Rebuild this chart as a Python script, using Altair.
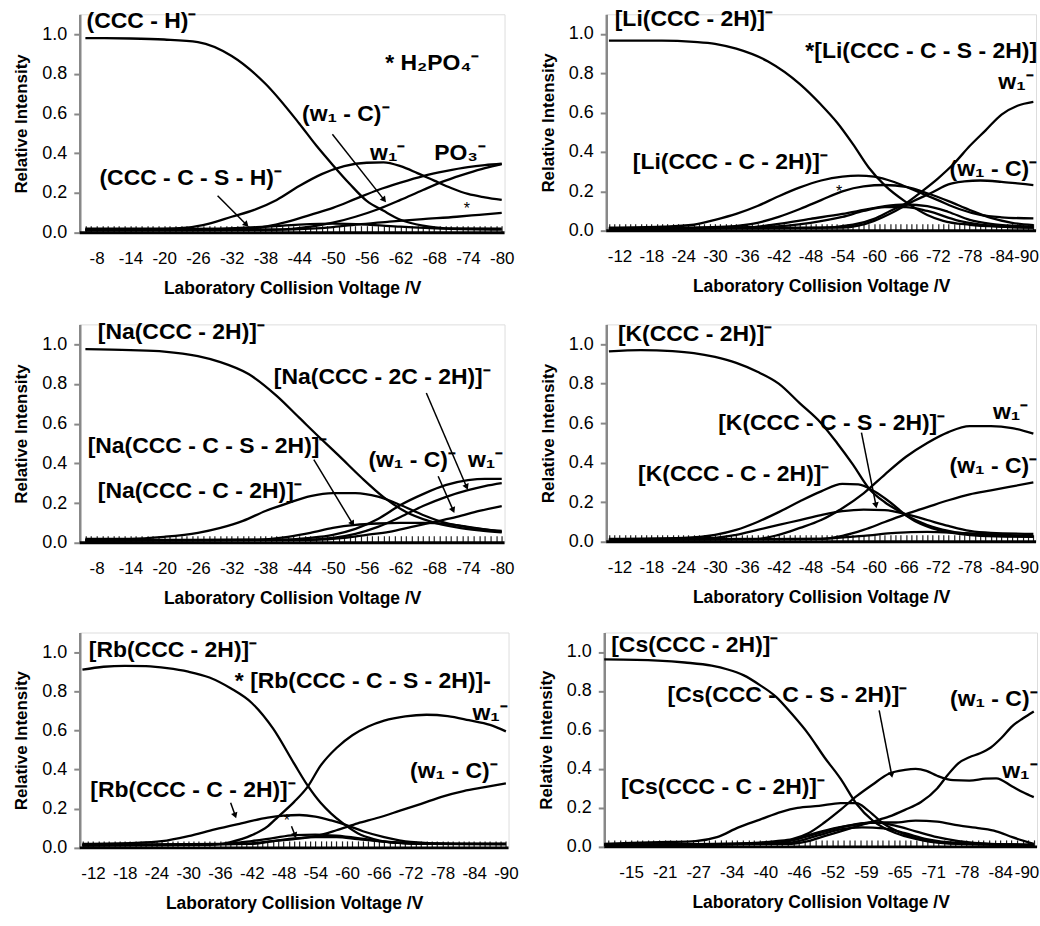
import json
import math
import altair as alt
import pandas as pd

FONT = "Liberation Sans"
X_TITLE = "Laboratory Collision Voltage /V"
Y_TITLE = "Relative Intensity"
Y_TICKS = [0.0, 0.2, 0.4, 0.6, 0.8, 1.0]

# ---------------- category tick positions and tick labels ----------------
ticks_6_80 = list(range(-6, -81, -1))
ticks_10_90 = list(range(-10, -91, -1))
cs_label_pos = [-15, -21.25, -27.5, -33.75, -40, -46.25, -52.5, -58.75, -65, -71.25, -77.5, -83.75, -90]
cs_labels = ["-15", "-21", "-27", "-34", "-40", "-46", "-52", "-59", "-65", "-71", "-78", "-84", "-90"]
cs_ticks = [-15 - (k * 75) / 72 for k in range(-4, 73)]

# ---------------- panel 1: (CCC - H)- ----------------
p1_ccc_h = [(-6, 0.98), (-14, 0.978), (-20, 0.973), (-26, 0.96), (-32, 0.89), (-38, 0.75), (-44, 0.55), (-47, 0.44),
            (-50, 0.34), (-53, 0.245), (-56, 0.16), (-59, 0.11), (-62, 0.065), (-66, 0.035), (-70, 0.022), (-80, 0.02)]
p1_w1 = [(-6, 0.02), (-20, 0.02), (-24, 0.025), (-28, 0.045), (-32, 0.08), (-36, 0.115), (-40, 0.165), (-44, 0.235),
         (-48, 0.295), (-52, 0.335), (-56, 0.352), (-59, 0.354), (-62, 0.335), (-65, 0.3), (-68, 0.262), (-71, 0.225),
         (-74, 0.195), (-77, 0.178), (-80, 0.165)]
p1_w1c = [(-6, 0.015), (-34, 0.018), (-38, 0.03), (-42, 0.055), (-46, 0.09), (-50, 0.125), (-54, 0.17), (-58, 0.215),
          (-62, 0.252), (-66, 0.285), (-70, 0.31), (-74, 0.33), (-77, 0.34), (-80, 0.347)]
p1_po3 = [(-6, 0.012), (-40, 0.015), (-46, 0.03), (-50, 0.05), (-54, 0.08), (-58, 0.118), (-62, 0.165), (-66, 0.215),
          (-70, 0.262), (-74, 0.3), (-77, 0.325), (-80, 0.345)]
p1_h2po4 = [(-6, 0.012), (-40, 0.015), (-46, 0.02), (-50, 0.028), (-55, 0.043), (-60, 0.055), (-66, 0.068),
            (-72, 0.08), (-76, 0.09), (-80, 0.1)]
p1_ccc_cs = [(-6, 0.015), (-30, 0.02), (-38, 0.03), (-44, 0.04), (-50, 0.045), (-56, 0.04), (-62, 0.03), (-70, 0.02),
             (-80, 0.015)]

# ---------------- panel 2: Li ----------------
p2_main = [(-10, 0.966), (-20, 0.966), (-26, 0.96), (-30, 0.95), (-34, 0.925), (-40, 0.86), (-46, 0.745), (-50, 0.64),
           (-53, 0.55), (-56, 0.44), (-59, 0.32), (-62, 0.23), (-66, 0.145), (-70, 0.08), (-73, 0.05), (-78, 0.03),
           (-84, 0.02), (-90, 0.015)]
p2_c2h = [(-10, 0.015), (-20, 0.02), (-26, 0.03), (-30, 0.055), (-34, 0.085), (-38, 0.125), (-42, 0.175), (-46, 0.22),
          (-50, 0.255), (-54, 0.275), (-57, 0.28), (-60, 0.275), (-64, 0.245), (-68, 0.2), (-72, 0.155), (-76, 0.11),
          (-80, 0.08), (-84, 0.068), (-90, 0.062)]
p2_cs = [(-10, 0.012), (-26, 0.015), (-32, 0.02), (-38, 0.04), (-42, 0.07), (-46, 0.11), (-50, 0.155), (-54, 0.2),
         (-58, 0.225), (-62, 0.232), (-66, 0.222), (-70, 0.19), (-74, 0.15), (-78, 0.105), (-82, 0.065), (-86, 0.04),
         (-90, 0.028)]
p2_hump_a = [(-10, 0.01), (-36, 0.015), (-42, 0.035), (-48, 0.06), (-54, 0.085), (-58, 0.105), (-62, 0.125),
             (-66, 0.133), (-70, 0.125), (-74, 0.095), (-78, 0.055), (-82, 0.035), (-86, 0.025), (-90, 0.02)]
p2_hump_b = [(-10, 0.01), (-40, 0.02), (-48, 0.04), (-54, 0.07), (-58, 0.1), (-62, 0.12), (-66, 0.12), (-70, 0.1),
             (-76, 0.05), (-82, 0.025), (-90, 0.015)]
p2_w1 = [(-10, 0.01), (-50, 0.015), (-56, 0.03), (-60, 0.06), (-63, 0.1), (-66, 0.14), (-69, 0.2), (-72, 0.265),
         (-75, 0.34), (-78, 0.43), (-81, 0.51), (-84, 0.59), (-87, 0.635), (-90, 0.655)]
p2_w1c = [(-10, 0.01), (-54, 0.015), (-57, 0.025), (-60, 0.05), (-64, 0.1), (-67, 0.145), (-71, 0.195), (-74, 0.235),
          (-77, 0.25), (-80, 0.255), (-84, 0.248), (-87, 0.24), (-90, 0.232)]

# ---------------- panel 3: Na ----------------
p3_main = [(-6, 0.975), (-14, 0.97), (-20, 0.963), (-26, 0.94), (-30, 0.91), (-35, 0.85), (-40, 0.74), (-44, 0.63),
           (-48, 0.52), (-51, 0.44), (-55, 0.33), (-59, 0.23), (-63, 0.155), (-67, 0.11), (-72, 0.077), (-76, 0.062),
           (-80, 0.052)]
p3_c2h = [(-6, 0.02), (-14, 0.02), (-20, 0.03), (-26, 0.05), (-30, 0.075), (-34, 0.11), (-38, 0.16), (-42, 0.2),
          (-46, 0.235), (-50, 0.25), (-54, 0.25), (-58, 0.232), (-62, 0.19), (-66, 0.14), (-70, 0.1), (-74, 0.078),
          (-80, 0.06)]
p3_cs = [(-6, 0.015), (-36, 0.015), (-42, 0.03), (-46, 0.05), (-50, 0.075), (-54, 0.09), (-58, 0.097), (-62, 0.1),
         (-66, 0.1), (-70, 0.095), (-74, 0.08), (-80, 0.055)]
p3_c2c = [(-6, 0.012), (-40, 0.015), (-46, 0.025), (-50, 0.04), (-54, 0.07), (-58, 0.12), (-62, 0.19), (-66, 0.245),
          (-70, 0.29), (-74, 0.315), (-77, 0.322), (-80, 0.322)]
p3_w1 = [(-6, 0.012), (-44, 0.015), (-50, 0.025), (-54, 0.045), (-58, 0.08), (-62, 0.13), (-66, 0.185), (-70, 0.23),
         (-74, 0.265), (-77, 0.285), (-80, 0.3)]
p3_w1c = [(-6, 0.01), (-46, 0.015), (-52, 0.025), (-56, 0.04), (-60, 0.055), (-64, 0.08), (-68, 0.105), (-72, 0.13),
          (-76, 0.16), (-80, 0.185)]

# ---------------- panel 4: K ----------------
p4_main = [(-10, 0.963), (-16, 0.97), (-22, 0.965), (-26, 0.955), (-30, 0.935), (-34, 0.905), (-38, 0.86), (-42, 0.8),
           (-46, 0.7), (-50, 0.6), (-53, 0.5), (-56, 0.39), (-59, 0.27), (-62, 0.2), (-65, 0.15), (-68, 0.1),
           (-72, 0.06), (-76, 0.04), (-80, 0.03), (-90, 0.025)]
p4_c2h = [(-10, 0.015), (-24, 0.02), (-30, 0.035), (-34, 0.06), (-38, 0.1), (-42, 0.15), (-46, 0.205), (-50, 0.255),
          (-54, 0.293), (-57, 0.29), (-60, 0.255), (-63, 0.2), (-66, 0.135), (-70, 0.085), (-74, 0.055), (-80, 0.035),
          (-90, 0.025)]
p4_w1 = [(-10, 0.012), (-38, 0.015), (-42, 0.035), (-46, 0.07), (-50, 0.11), (-54, 0.17), (-58, 0.245), (-62, 0.34),
         (-66, 0.43), (-70, 0.5), (-74, 0.555), (-78, 0.585), (-82, 0.585), (-86, 0.575), (-90, 0.547)]
p4_cs = [(-10, 0.012), (-30, 0.02), (-34, 0.035), (-38, 0.06), (-42, 0.085), (-46, 0.11), (-50, 0.135), (-54, 0.155),
         (-58, 0.163), (-62, 0.16), (-66, 0.14), (-70, 0.11), (-74, 0.08), (-78, 0.055), (-82, 0.045), (-90, 0.04)]
p4_w1c = [(-10, 0.01), (-50, 0.015), (-54, 0.03), (-58, 0.06), (-62, 0.1), (-66, 0.14), (-70, 0.175), (-74, 0.21),
          (-78, 0.24), (-82, 0.26), (-86, 0.28), (-90, 0.3)]
p4_low = [(-10, 0.01), (-50, 0.015), (-58, 0.03), (-64, 0.045), (-70, 0.05), (-76, 0.045), (-84, 0.035), (-90, 0.03)]

# ---------------- panel 5: Rb ----------------
p5_main = [(-10, 0.91), (-14, 0.925), (-18, 0.93), (-22, 0.928), (-26, 0.918), (-30, 0.9), (-34, 0.87), (-38, 0.815),
           (-42, 0.74), (-46, 0.61), (-50, 0.43), (-52.5, 0.32), (-55, 0.23), (-57, 0.175), (-59, 0.13), (-62, 0.075),
           (-65, 0.045), (-70, 0.025), (-80, 0.02), (-90, 0.02)]
p5_w1 = [(-10, 0.012), (-34, 0.015), (-38, 0.03), (-42, 0.065), (-45, 0.11), (-47, 0.16), (-50, 0.235), (-52.5, 0.31),
         (-55, 0.42), (-58, 0.51), (-61, 0.575), (-64, 0.62), (-67, 0.65), (-71, 0.672), (-75, 0.68), (-79, 0.673),
         (-83, 0.652), (-87, 0.628), (-90, 0.595)]
p5_c2h = [(-10, 0.02), (-20, 0.025), (-25, 0.034), (-30, 0.06), (-35, 0.094), (-40, 0.125), (-45, 0.155), (-48, 0.165),
          (-51, 0.168), (-54, 0.16), (-57, 0.14), (-60, 0.115), (-63, 0.085), (-67, 0.055), (-72, 0.03), (-80, 0.02),
          (-90, 0.02)]
p5_w1c = [(-10, 0.015), (-42, 0.02), (-46, 0.035), (-50, 0.045), (-54, 0.06), (-58, 0.09), (-62, 0.125), (-66, 0.155),
          (-70, 0.19), (-74, 0.225), (-78, 0.262), (-82, 0.29), (-86, 0.31), (-90, 0.33)]
p5_cs = [(-10, 0.015), (-36, 0.02), (-42, 0.035), (-46, 0.05), (-50, 0.065), (-54, 0.068), (-58, 0.062), (-62, 0.05),
         (-66, 0.035), (-72, 0.022), (-90, 0.02)]
p5_cs2 = [(-10, 0.012), (-40, 0.02), (-46, 0.035), (-50, 0.048), (-54, 0.055), (-58, 0.055), (-62, 0.045), (-68, 0.03),
          (-76, 0.02), (-90, 0.018)]

# ---------------- panel 6: Cs ----------------
p6_main = [(-10, 0.962), (-16, 0.96), (-20, 0.956), (-25, 0.946), (-30, 0.93), (-33, 0.91), (-36, 0.88), (-39, 0.83),
           (-42, 0.77), (-45, 0.68), (-48, 0.58), (-51, 0.46), (-54, 0.35), (-57, 0.22), (-60, 0.135), (-63, 0.085),
           (-66, 0.055), (-70, 0.03), (-76, 0.015), (-84, 0.01), (-90, 0.01)]
p6_c2h = [(-10, 0.015), (-15, 0.02), (-22, 0.025), (-27, 0.03), (-31, 0.05), (-35, 0.1), (-39, 0.14), (-43, 0.18),
          (-46, 0.2), (-50, 0.21), (-54, 0.225), (-57, 0.225), (-59, 0.19), (-62, 0.12), (-65, 0.075), (-68, 0.045),
          (-72, 0.025), (-80, 0.015), (-90, 0.01)]
p6_peak = [(-10, 0.01), (-30, 0.01), (-38, 0.02), (-42, 0.03), (-45, 0.04), (-48, 0.07), (-51, 0.125), (-54, 0.19),
           (-57, 0.26), (-60, 0.32), (-63, 0.375), (-66, 0.395), (-68, 0.4), (-70, 0.39), (-72, 0.365), (-75, 0.342),
           (-78, 0.34), (-81, 0.35), (-83, 0.352), (-86, 0.31), (-88, 0.28), (-90, 0.255)]
p6_w1c = [(-10, 0.01), (-44, 0.015), (-48, 0.03), (-51, 0.055), (-54, 0.08), (-57, 0.105), (-60, 0.13), (-63, 0.155),
          (-66, 0.19), (-69, 0.23), (-72, 0.3), (-74, 0.37), (-76, 0.43), (-78, 0.46), (-80, 0.48), (-82, 0.51),
          (-84, 0.56), (-86, 0.62), (-88, 0.66), (-90, 0.695)]
p6_hump_a = [(-10, 0.01), (-40, 0.015), (-44, 0.03), (-48, 0.06), (-52, 0.09), (-56, 0.11), (-60, 0.125), (-64, 0.125),
             (-68, 0.135), (-72, 0.13), (-76, 0.11), (-80, 0.095), (-83, 0.08), (-86, 0.05), (-90, 0.015)]
p6_hump_b = [(-10, 0.01), (-42, 0.02), (-46, 0.04), (-50, 0.07), (-54, 0.1), (-58, 0.12), (-61, 0.125), (-64, 0.11),
             (-68, 0.08), (-72, 0.05), (-76, 0.03), (-82, 0.015), (-90, 0.01)]
p6_hump_c = [(-10, 0.01), (-44, 0.02), (-50, 0.06), (-54, 0.09), (-58, 0.1), (-62, 0.095), (-66, 0.07), (-70, 0.04),
             (-76, 0.02), (-90, 0.01)]

# ---------------- annotation texts: (text, voltage, intensity, alignment) ----------------
p1_texts = [("(CCC - H)⁻", -6.2, 1.065, "left"), ("* H₂PO₄⁻", -59.3, 0.855, "left"),
            ("(w₁ - C)⁻", -44.5, 0.6, "left"), ("w₁⁻", -56.6, 0.4, "left"), ("PO₃⁻", -68, 0.4, "left"),
            ("(CCC - C - S - H)⁻", -8.5, 0.277, "left")]
p1_stars = [("*", -73.8, 0.12)]
p1_arrows = [(-29.5, 0.186, -34.5, 0.044), (-49.9, 0.496, -59, 0.169)]

p2_texts = [("[Li(CCC - 2H)]⁻", -11.1, 1.076, "left"), ("*[Li(CCC - C - S -  2H)]", -90.7, 0.915, "right"),
            ("w₁⁻", -83.4, 0.754, "left"), ("[Li(CCC - C -  2H)]⁻", -14.5, 0.347, "left"),
            ("(w₁ - C)⁻", -90.7, 0.314, "right")]
p2_stars = [("*", -53.4, 0.195)]
p2_arrows = []

p3_texts = [("[Na(CCC - 2H)]⁻", -8.2, 1.064, "left"), ("[Na(CCC - 2C - 2H)]⁻", -39.5, 0.837, "left"),
            ("[Na(CCC - C - S - 2H)]⁻", -6.4, 0.486, "left"), ("(w₁ - C)⁻", -56.3, 0.419, "left"),
            ("w₁⁻", -74, 0.419, "left"), ("[Na(CCC - C - 2H)]⁻", -8.2, 0.26, "left")]
p3_stars = []
p3_arrows = [(-66.6, 0.754, -73.7, 0.285), (-46.6, 0.419, -53.4, 0.1), (-68.7, 0.335, -71.3, 0.168)]

p4_texts = [("[K(CCC - 2H)]⁻", -11.7, 1.05, "left"), ("[K(CCC - C - S -  2H)]⁻", -30.6, 0.603, "left"),
            ("w₁⁻", -82.4, 0.654, "left"), ("[K(CCC - C -  2H)]⁻", -15.5, 0.341, "left"),
            ("(w₁ - C)⁻", -90.7, 0.383, "right")]
p4_stars = []
p4_arrows = [(-57.6, 0.552, -60.3, 0.189)]

p5_texts = [("[Rb(CCC - 2H)]⁻", -11.2, 1.012, "left"), ("* [Rb(CCC - C - S - 2H)]-", -38.8, 0.85, "left"),
            ("w₁⁻", -83.7, 0.689, "left"), ("(w₁ - C)⁻", -71.9, 0.391, "left"),
            ("[Rb(CCC - C - 2H)]⁻", -11.5, 0.298, "left")]
p5_stars = [("*", -48.6, 0.136)]
p5_arrows = [(-38, 0.23, -38.8, 0.17), (-49.5, 0.11, -50.1, 0.068)]

p6_texts = [("[Cs(CCC - 2H)]⁻", -11.3, 1.034, "left"), ("[Cs(CCC - C - S -  2H)]⁻", -21.8, 0.777, "left"),
            ("(w₁ - C)⁻", -90.7, 0.76, "right"), ("w₁⁻", -90.7, 0.391, "right"),
            ("[Cs(CCC - C -  2H)]⁻", -13.1, 0.305, "left")]
p6_stars = []
p6_arrows = [(-61.2, 0.7, -63.5, 0.374)]

LABEL_EVERY6_FROM8 = "(abs(datum.value) - 8) % 6 == 0 ? '-' + abs(datum.value) : ''"
LABEL_EVERY6_FROM12 = "(abs(datum.value) - 12) % 6 == 0 ? '-' + abs(datum.value) : ''"
CS_LABEL_EXPR = ("indexof(%s, datum.value) >= 0 ? %s[indexof(%s, datum.value)] : ''"
                 % (json.dumps(cs_label_pos), json.dumps(cs_labels), json.dumps(cs_label_pos)))


def make_panel(series, domain, width, height, ticks, label_expr, texts, stars, arrows, flush):
    rows = [{"s": name, "v": v, "i": i} for name, pts in series.items() for v, i in pts]
    df = pd.DataFrame(rows)
    lo, hi = domain
    xsc = alt.Scale(domain=[lo, hi], reverse=True, nice=False, zero=False)
    ysc = alt.Scale(domain=[0, 1.1], nice=False)
    xax = alt.Axis(values=ticks, labelExpr=label_expr, title=X_TITLE, domain=False, offset=-7, tickSize=7,
                   tickWidth=1.2, tickColor="#222222", labelPadding=18, labelOverlap=False, labelFlush=flush,
                   labelFlushOffset=5 if flush else 0,
                   labelBound=False, grid=False, labelFontSize=17, titleFontSize=17.5, titlePadding=13)
    yax = alt.Axis(values=Y_TICKS, format=".1f", title=Y_TITLE, grid=False, domainWidth=2.5, tickWidth=2,
                   tickSize=6, labelPadding=7, labelFontSize=18, titleFontSize=17, titlePadding=11)

    def X(field):
        return alt.X(field, scale=xsc, axis=xax, title=X_TITLE)

    def Y(field):
        return alt.Y(field, scale=ysc, axis=yax, title=Y_TITLE)

    lines = alt.Chart(df).mark_line(interpolate="monotone", color="black", strokeWidth=2.3).encode(
        x=X("v:Q"), y=Y("i:Q"), detail="s:N")
    baseline = alt.Chart(pd.DataFrame({"i": [0.0]})).mark_rule(color="black", strokeWidth=3).encode(y=Y("i:Q"))
    layers = [lines, baseline]
    for align in ("left", "right"):
        sel = [{"t": t, "v": v, "i": i} for t, v, i, a in texts if a == align]
        if sel:
            layers.append(alt.Chart(pd.DataFrame(sel)).mark_text(
                align=align, baseline="middle", font=FONT, fontSize=23, fontWeight="bold", color="black"
            ).encode(x=X("v:Q"), y=Y("i:Q"), text="t:N"))
    if stars:
        sdf = pd.DataFrame([{"t": t, "v": v, "i": i} for t, v, i in stars])
        layers.append(alt.Chart(sdf).mark_text(align="center", baseline="middle", font=FONT, fontSize=16,
                                               color="black").encode(x=X("v:Q"), y=Y("i:Q"), text="t:N"))
    if arrows:
        pxv = width / (hi - lo)
        pxu = height / 1.1
        arows = []
        for v1, i1, v2, i2 in arrows:
            dx = -(v2 - v1) * pxv
            dy = -(i2 - i1) * pxu
            ang = math.degrees(math.atan2(dx, -dy)) % 360
            arows.append({"v": v1, "i": i1, "v2": v2, "i2": i2, "a": ang})
        adf = pd.DataFrame(arows)
        layers.append(alt.Chart(adf).mark_rule(color="black", strokeWidth=1.5).encode(
            x=X("v:Q"), y=Y("i:Q"), x2="v2:Q", y2="i2:Q"))
        layers.append(alt.Chart(adf).mark_point(shape="triangle", filled=True, size=45, color="black",
                                                opacity=1).encode(
            x=X("v2:Q"), y=Y("i2:Q"), angle=alt.Angle("a:Q", scale=None)))
    return alt.layer(*layers).properties(width=width, height=height)


p1 = make_panel({"ccc_h": p1_ccc_h, "w1": p1_w1, "w1c": p1_w1c, "po3": p1_po3, "h2po4": p1_h2po4,
                 "cs": p1_ccc_cs}, (-80.5, -5), 426, 219, ticks_6_80, LABEL_EVERY6_FROM8,
                p1_texts, p1_stars, p1_arrows, False)
p2 = make_panel({"main": p2_main, "c2h": p2_c2h, "cs": p2_cs, "ha": p2_hump_a, "hb": p2_hump_b, "w1": p2_w1,
                 "w1c": p2_w1c}, (-90.5, -9.5), 431, 217, ticks_10_90, LABEL_EVERY6_FROM12,
                p2_texts, p2_stars, p2_arrows, 6)
p3 = make_panel({"main": p3_main, "c2h": p3_c2h, "cs": p3_cs, "c2c": p3_c2c, "w1": p3_w1, "w1c": p3_w1c},
                (-80.5, -5), 426, 219, ticks_6_80, LABEL_EVERY6_FROM8, p3_texts, p3_stars, p3_arrows, False)
p4 = make_panel({"main": p4_main, "c2h": p4_c2h, "w1": p4_w1, "cs": p4_cs, "w1c": p4_w1c, "low": p4_low},
                (-90.5, -9.5), 431, 218, ticks_10_90, LABEL_EVERY6_FROM12, p4_texts, p4_stars, p4_arrows, 6)
p5 = make_panel({"main": p5_main, "w1": p5_w1, "c2h": p5_c2h, "w1c": p5_w1c, "cs": p5_cs, "cs2": p5_cs2},
                (-90.5, -9.5), 430, 216, ticks_10_90, LABEL_EVERY6_FROM12, p5_texts, p5_stars, p5_arrows, False)
p6 = make_panel({"main": p6_main, "c2h": p6_c2h, "peak": p6_peak, "w1c": p6_w1c, "ha": p6_hump_a, "hb": p6_hump_b,
                 "hc": p6_hump_c}, (-90.6, -10), 434, 215, cs_ticks, CS_LABEL_EXPR, p6_texts, p6_stars, p6_arrows,
                6)

row1 = alt.hconcat(p1, p2, spacing=24)
row2 = alt.hconcat(p3, p4, spacing=24)
row3 = alt.hconcat(p5, p6, spacing=17)

chart = alt.vconcat(row1, alt.vconcat(row2, row3, spacing=24), spacing=22).properties(
    padding={"left": 12, "top": 6, "right": 0, "bottom": 0}
).configure_axis(
    labelFont=FONT, titleFont=FONT, labelFontWeight="bold", titleFontWeight="bold",
    labelColor="black", titleColor="black", domainColor="black", tickColor="black"
).configure_view(strokeWidth=0).configure(background="white")

chart.save("out.html", embed_options={"renderer": "svg", "actions": False})
